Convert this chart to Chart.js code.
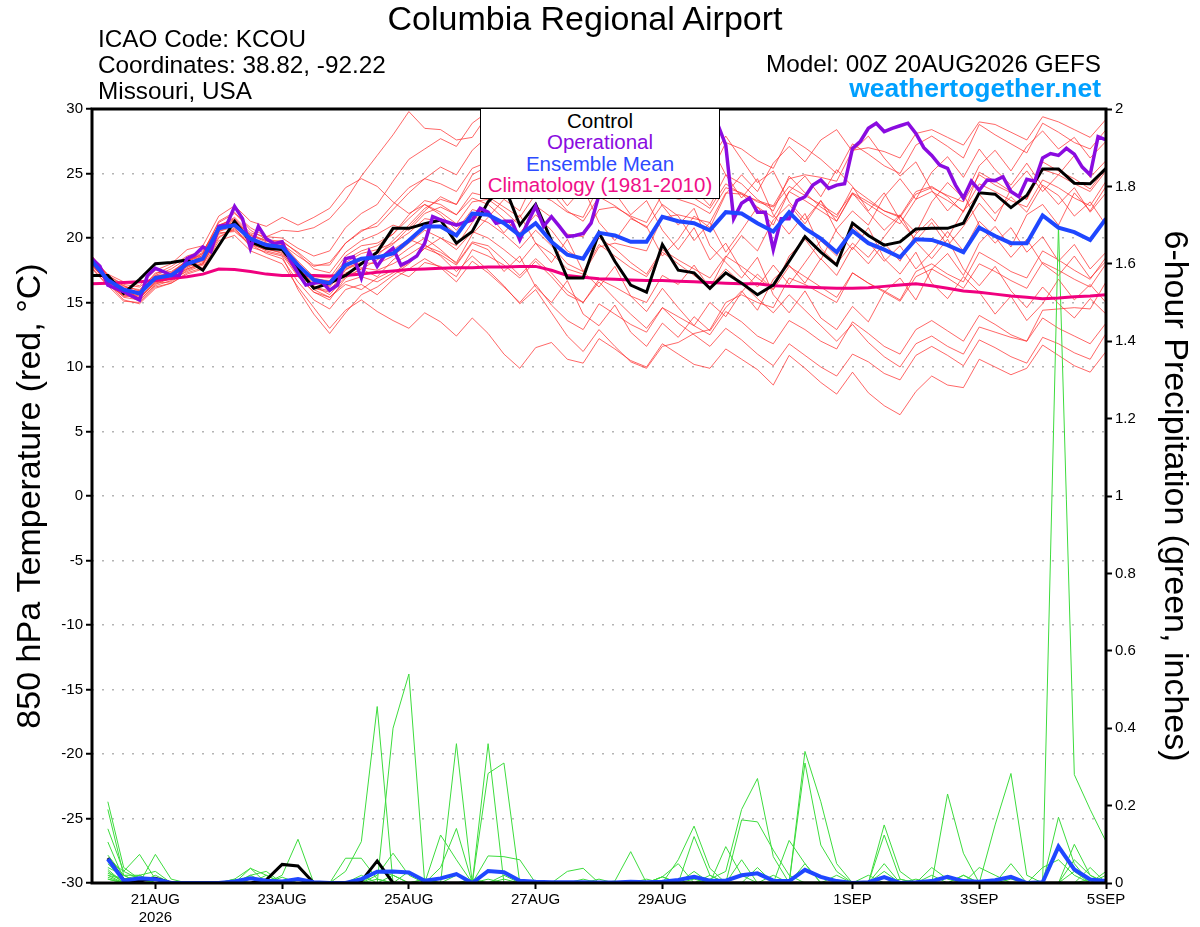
<!DOCTYPE html>
<html>
<head>
<meta charset="utf-8">
<title>Columbia Regional Airport - GEFS</title>
<script src="https://cdn.jsdelivr.net/npm/chart.js@4.4.1/dist/chart.umd.min.js"></script>
<style>
  body { margin: 0; background: #fff; }
  #wrap { position: relative; width: 1200px; height: 927px; font-family: "Liberation Sans", Arial, sans-serif; }
  #chart { position: absolute; left: 0; top: 0; }
  .hdr { position: absolute; white-space: nowrap; line-height: 1; color: #000; }
  #legendBox {
    position: absolute; left: 480px; top: 108px; width: 240px; height: 91px;
    box-sizing: border-box; border: 1.5px solid #000; background: #fff;
    text-align: center; font-size: 20.5px; line-height: 21.4px; padding-top: 1px;
  }
</style>
</head>
<body>
<div id="wrap">
  <canvas id="chart" width="1200" height="927"></canvas>
  <div class="hdr" style="left:0;width:1170px;text-align:center;top:1px;font-size:34px;">Columbia Regional Airport</div>
  <div class="hdr" style="left:98px;top:27px;font-size:24.3px;">ICAO Code: KCOU</div>
  <div class="hdr" style="left:98px;top:53px;font-size:24.3px;">Coordinates: 38.82, -92.22</div>
  <div class="hdr" style="left:98px;top:79px;font-size:24.3px;">Missouri, USA</div>
  <div class="hdr" style="right:99px;top:52px;font-size:24.3px;text-align:right;">Model: 00Z 20AUG2026 GEFS</div>
  <div class="hdr" style="right:99px;top:75px;font-size:26.5px;font-weight:bold;color:#00a0ff;text-align:right;">weathertogether.net</div>
  <div id="legendBox">
    <div style="color:#000;">Control</div>
    <div style="color:#8a0be0;">Operational</div>
    <div style="color:#2d4bff;">Ensemble Mean</div>
    <div style="color:#f00f88;">Climatology (1981-2010)</div>
  </div>
</div>
<script>
// x axis: forecast hour from 00Z 20AUG2026
const tickHours = [24, 72, 120, 168, 216, 288, 336, 384];
const tickLabels = [["21AUG", "2026"], "23AUG", "25AUG", "27AUG", "29AUG", "1SEP", "3SEP", "5SEP"];

// 850 hPa temperature, every 6 h from hour 0 (65 values)
const controlTemp = [
  17.1, 17.1, 15.7, 16.8, 18.0, 18.1, 18.3, 17.5, 19.4, 21.3, 19.7, 19.2, 19.1,
  17.6, 16.1, 16.5, 17.1, 18.0, 18.9, 20.75, 20.75, 21.1, 21.4, 19.6, 20.5,
  22.8, 24.1, 21.0, 22.6, 19.8, 16.9, 16.9, 20.4, 18.2, 16.35, 15.8, 19.5,
  17.5, 17.3, 16.1, 17.3, 16.5, 15.6, 16.35, 18.2, 20.1, 18.9, 17.9, 21.15,
  20.2, 19.45, 19.7, 20.7, 20.75, 20.75, 21.15, 23.5, 23.4, 22.35, 23.3, 25.35, 25.35, 24.25, 24.2, 25.4
];
const meanTemp = [
  18.2, 16.75, 16.0, 15.7, 16.9, 17.1, 18.0, 18.4, 20.75, 21.0, 19.95, 19.45, 19.3,
  17.9, 16.75, 16.5, 17.9, 18.4, 18.5, 18.8, 19.8, 20.9, 20.9, 20.2, 21.9,
  21.8, 21.15, 20.2, 21.15, 19.7, 18.7, 18.4, 20.4, 20.2, 19.7, 19.7, 21.65,
  21.3, 21.15, 20.6, 22.0, 21.9, 21.15, 20.5, 22.0, 20.75, 19.95, 18.9, 20.55,
  19.6, 19.1, 18.5, 19.9, 19.85, 19.45, 18.9, 20.8, 20.15, 19.6, 19.6, 21.75, 20.8, 20.45, 19.85, 21.5
];
const climoTemp = [
  16.45, 16.5, 16.55, 16.6, 16.7, 16.85, 17.0, 17.2, 17.6, 17.55, 17.4, 17.2, 17.1,
  17.1, 17.1, 17.05, 17.1, 17.2, 17.35, 17.45, 17.55, 17.6, 17.65, 17.7, 17.7,
  17.75, 17.75, 17.8, 17.8, 17.5, 17.1, 16.95, 16.85, 16.8, 16.75, 16.7, 16.7,
  16.65, 16.6, 16.55, 16.5, 16.45, 16.45, 16.3, 16.25, 16.2, 16.15, 16.1, 16.1,
  16.15, 16.25, 16.35, 16.45, 16.3, 16.1, 15.9, 15.8, 15.65, 15.5, 15.4, 15.3, 15.35, 15.45, 15.5, 15.6
];
// operational run, every 3 h from hour 0 (129 values)
const operTemp = [
  18.4, 17.8, 16.35, 16.1, 15.85, 15.5, 15.2, 17.1,
  17.65, 17.4, 17.1, 17.1, 18.4, 18.7, 19.3, 18.95,
  20.9, 21.0, 22.45, 21.5, 19.2, 20.9, 19.95, 19.55,
  19.7, 18.3, 17.3, 16.35, 16.5, 16.6, 15.95, 16.35,
  18.4, 18.55, 16.9, 18.95, 17.8, 18.7, 19.2, 17.9,
  18.2, 18.6, 19.6, 21.65, 21.4, 21.2, 21.0, 21.2,
  21.4, 22.3, 22.0, 21.15, 21.3, 21.3, 19.85, 21.2,
  22.45, 20.9, 21.65, 20.9, 20.1, 20.2, 20.35, 21.15,
  23.35, 24.5, 25.8, 26.4, 27.0, 27.8, 28.2, 27.9,
  28.5, 29.0, 28.6, 29.2, 29.6, 29.4, 29.3, 28.8,
  27.2, 21.5, 22.7, 23.1, 22.0, 22.0, 19.1, 21.5,
  21.5, 22.9, 23.2, 24.1, 24.5, 23.85, 24.1, 24.2,
  26.95, 27.5, 28.5, 28.9, 28.25, 28.5, 28.7, 28.9,
  28.1, 27.0, 26.4, 25.65, 25.4, 24.1, 23.1, 24.4,
  23.7, 24.5, 24.45, 24.75, 23.6, 23.2, 24.55, 24.4,
  26.2, 26.55, 26.4, 26.95, 26.5, 25.5, 24.9, 27.85,
  27.6
];
// ensemble members, every 6 h from hour 0
const memberTemps = [
  [18.0, 16.9, 16.2, 16.0, 17.2, 17.8, 18.6, 19.0, 20.9, 21.6, 20.4, 20.1, 20.6,
   20.5, 20.8, 21.5, 22.9, 24.8, 26.4, 28.0, 29.8, 28.5, 28.4, 27.6, 27.8,
   29.6, 28.7, 27.5, 25.8, 26.9, 25.1, 24.0, 26.2, 25.4, 24.6, 23.3, 25.0,
   24.1, 23.8, 22.5, 24.9, 24.2, 23.0, 22.1, 24.8, 23.5, 22.4, 21.6, 23.9,
   23.0, 22.1, 21.7, 23.6, 24.0, 23.2, 22.0, 25.1, 24.4, 23.6, 23.0, 25.9, 25.2, 24.6, 23.8, 25.4],
  [18.4, 16.5, 15.2, 14.9, 16.1, 16.5, 17.2, 17.6, 19.8, 20.2, 19.0, 18.5, 18.0,
   16.2, 14.6, 13.0, 14.4, 15.2, 14.3, 13.6, 13.0, 14.2, 13.5, 12.4, 13.8,
   12.6, 11.0, 9.9, 11.5, 11.9, 10.6, 10.3, 12.2, 11.4, 10.5, 10.0, 11.8,
   11.0, 10.2, 9.9, 11.4, 10.6, 9.8, 8.6, 10.9, 9.9, 8.8, 7.9, 9.6,
   8.0, 7.0, 6.3, 8.1, 9.3, 8.6, 8.4, 10.6, 10.0, 9.4, 9.9, 11.7, 10.9, 10.1, 9.6, 11.2],
  [17.6, 16.3, 15.6, 15.4, 16.5, 16.9, 17.9, 18.7, 20.8, 21.2, 20.3, 19.8, 19.5,
   18.6, 17.8, 18.1, 19.6, 20.5, 21.2, 22.6, 23.9, 24.6, 25.5, 24.9, 26.8,
   27.9, 27.1, 26.0, 27.4, 26.3, 24.9, 24.2, 26.6, 25.9, 25.2, 24.5, 26.9,
   26.1, 25.5, 24.8, 27.4, 26.9, 26.0, 25.4, 27.8, 27.0, 26.1, 25.0, 27.3,
   26.5, 25.6, 25.0, 27.2, 27.9, 27.1, 26.2, 28.8, 28.0, 27.3, 26.6, 28.9, 28.2, 27.4, 26.9, 28.4],
  [18.6, 17.0, 16.1, 15.3, 16.6, 16.8, 17.4, 17.9, 20.3, 20.6, 19.5, 18.8, 18.4,
   16.6, 15.2, 14.5, 16.0, 16.4, 15.6, 16.8, 17.6, 18.4, 17.7, 16.6, 18.2,
   17.3, 16.2, 15.0, 16.4, 14.8, 13.6, 12.9, 14.9, 14.1, 13.3, 12.7, 14.6,
   13.9, 13.2, 12.5, 14.3, 13.5, 12.4, 11.8, 13.6, 12.9, 12.0, 11.4, 13.5,
   12.6, 11.6, 11.0, 12.9, 13.6, 12.8, 12.0, 14.0, 13.3, 12.5, 12.0, 13.8, 13.0, 12.4, 11.8, 13.4],
  [17.9, 16.6, 15.9, 15.9, 17.3, 17.4, 18.2, 18.9, 21.2, 21.9, 20.8, 20.1, 20.0,
   19.2, 18.6, 19.0, 20.8, 21.9, 22.6, 24.4, 26.1, 26.9, 27.7, 27.1, 28.9,
   29.8, 28.6, 26.2, 27.0, 24.1, 22.5, 23.9, 21.2, 19.8, 21.5, 20.9, 18.6,
   19.9, 21.7, 20.8, 23.4, 24.9, 23.6, 25.8, 27.1, 25.9, 27.6, 28.4, 26.7,
   27.9, 26.2, 24.8, 25.9, 23.7, 22.1, 23.4, 21.0, 19.6, 20.8, 18.9, 20.1, 18.2, 19.5, 17.6, 18.9],
  [18.1, 16.8, 15.8, 15.5, 16.8, 17.0, 17.8, 18.2, 20.5, 21.1, 19.8, 19.6, 19.1,
   17.5, 16.1, 15.8, 17.3, 17.7, 17.5, 18.0, 18.7, 19.5, 18.6, 17.4, 18.6,
   17.5, 16.3, 14.9, 16.0, 14.2, 12.4, 11.2, 12.9, 11.6, 10.4, 9.9, 11.6,
   11.9, 12.6, 12.9, 15.0, 15.6, 15.0, 14.6, 16.9, 16.4, 15.7, 15.0, 17.3,
   16.5, 15.9, 15.2, 17.4, 18.0, 17.2, 16.6, 18.9, 18.2, 17.4, 16.9, 19.0, 18.3, 17.5, 16.8, 18.5],
  [18.3, 16.9, 16.3, 15.9, 17.0, 17.3, 18.3, 18.5, 20.6, 21.4, 20.0, 19.3, 19.6,
   18.2, 17.0, 16.9, 18.6, 19.4, 19.6, 20.3, 21.5, 22.6, 22.0, 21.1, 22.8,
   23.0, 22.1, 21.0, 22.5, 21.6, 20.3, 20.1, 22.2, 22.4, 21.7, 21.2, 23.4,
   23.0, 22.6, 21.9, 23.9, 23.5, 22.8, 22.4, 24.0, 23.3, 22.6, 21.8, 23.5,
   22.8, 22.1, 21.6, 23.4, 23.9, 23.3, 22.8, 24.9, 24.1, 23.5, 23.0, 25.3, 24.9, 24.2, 23.6, 25.2],
  [18.0, 16.4, 15.7, 15.1, 16.4, 16.9, 17.6, 18.0, 20.4, 20.5, 19.5, 19.1, 18.9,
   17.1, 15.8, 15.4, 16.4, 16.0, 16.9, 17.5, 17.0, 18.1, 17.8, 17.0, 19.1,
   18.6, 17.9, 16.9, 18.2, 17.0, 15.6, 15.0, 16.8, 16.2, 15.5, 15.0, 17.1,
   16.4, 17.9, 16.1, 18.5, 20.2, 19.0, 21.4, 22.6, 21.1, 22.9, 21.3, 23.5,
   22.0, 20.6, 21.8, 19.7, 18.4, 19.9, 17.6, 16.3, 17.8, 15.9, 14.6, 16.2, 14.9, 13.8, 15.3, 14.1],
  [18.5, 17.1, 16.4, 16.2, 17.1, 17.6, 18.4, 18.6, 21.0, 21.4, 20.2, 19.7, 19.8,
   18.8, 17.6, 17.3, 18.9, 19.8, 20.3, 21.0, 20.6, 21.9, 22.4, 21.8, 23.5,
   23.2, 22.4, 21.6, 23.4, 22.9, 22.0, 21.6, 24.0, 24.6, 24.0, 23.6, 26.0,
   25.8, 27.2, 26.0, 27.9, 26.1, 24.3, 25.2, 22.8, 21.4, 22.9, 20.5, 19.1,
   20.8, 18.4, 17.2, 18.9, 16.5, 15.3, 17.0, 15.8, 14.1, 15.5, 13.6, 14.9, 16.8, 15.2, 16.4, 15.0],
  [17.8, 16.6, 15.5, 15.6, 16.7, 16.8, 17.7, 18.3, 20.9, 21.0, 20.1, 19.4, 19.2,
   17.8, 16.3, 15.6, 17.0, 17.6, 18.3, 19.1, 19.9, 19.4, 18.9, 18.1, 20.3,
   21.6, 23.0, 22.1, 24.7, 25.5, 24.0, 26.3, 27.2, 25.6, 23.9, 24.8, 22.5,
   21.0, 22.3, 19.4, 18.1, 16.9, 18.5, 15.6, 14.2, 15.9, 13.8, 12.9, 14.7,
   13.5, 15.8, 16.9, 15.2, 17.6, 18.8, 17.1, 19.6, 20.9, 19.3, 21.8, 22.6, 21.0, 23.5, 22.1, 24.0],
  [18.2, 16.7, 16.0, 15.8, 17.1, 17.2, 18.1, 18.8, 21.3, 22.0, 20.6, 19.9, 19.7,
   18.9, 17.9, 17.9, 19.6, 20.6, 20.9, 22.2, 23.5, 24.6, 24.2, 23.6, 25.4,
   25.9, 25.6, 24.9, 26.8, 27.3, 26.6, 26.0, 28.1, 28.6, 28.0, 27.4, 29.3,
   28.6, 26.4, 27.3, 24.9, 23.1, 24.6, 21.8, 20.3, 21.9, 19.2, 18.0, 19.6,
   18.5, 20.1, 21.7, 20.4, 22.8, 24.3, 23.1, 25.6, 26.8, 25.2, 27.1, 28.3, 26.9, 27.8, 26.2, 27.5],
  [18.5, 16.9, 16.0, 15.3, 16.5, 16.6, 17.5, 18.0, 20.1, 20.7, 19.6, 19.0, 18.7,
   17.0, 15.8, 15.2, 16.9, 17.6, 17.0, 18.3, 19.2, 20.0, 19.1, 18.0, 19.7,
   19.4, 18.3, 17.1, 18.4, 17.3, 15.9, 15.0, 16.6, 15.3, 14.1, 13.0, 14.6,
   13.4, 12.5, 11.6, 13.0, 12.1, 11.0, 10.1, 11.8, 10.9, 10.0, 9.3, 11.0,
   10.4, 9.5, 9.0, 10.9, 11.6, 10.9, 10.1, 12.1, 11.5, 10.8, 10.3, 12.3, 11.8, 11.1, 10.6, 12.6],
  [17.7, 16.3, 15.1, 15.0, 16.2, 16.5, 17.3, 17.7, 20.0, 20.8, 19.3, 18.9, 18.6,
   16.0, 14.1, 12.6, 14.2, 15.6, 16.2, 17.1, 18.0, 19.2, 20.0, 19.4, 21.2,
   22.8, 24.6, 23.1, 25.9, 27.4, 26.0, 24.2, 25.7, 23.5, 21.8, 22.9, 20.6,
   19.1, 20.8, 18.3, 19.6, 17.5, 16.2, 17.9, 16.4, 18.1, 19.8, 18.6, 20.9,
   19.7, 18.2, 19.4, 17.6, 18.9, 20.5, 19.0, 21.3, 20.1, 18.5, 19.9, 18.0, 17.1, 18.6, 16.9, 18.2],
  [18.4, 17.2, 16.6, 16.3, 17.5, 18.0, 19.1, 19.4, 21.7, 22.5, 21.3, 20.9, 21.6,
   21.0, 21.6, 22.3, 23.9, 24.6, 24.0, 22.8, 21.9, 22.6, 21.8, 20.6, 22.2,
   21.9, 20.4, 21.8, 19.6, 18.1, 19.9, 17.4, 16.2, 17.8, 15.5, 14.3, 16.1,
   14.6, 13.2, 15.0, 13.9, 15.8, 17.2, 16.0, 18.6, 19.9, 18.3, 20.7, 22.1,
   21.0, 23.2, 24.6, 23.0, 25.1, 26.3, 24.7, 26.9, 25.3, 24.1, 25.8, 24.0, 22.6, 23.9, 22.0, 23.5],
  [18.0, 16.6, 15.9, 15.6, 17.0, 17.2, 17.9, 18.3, 20.6, 21.1, 19.9, 19.5, 19.0,
   17.6, 16.5, 16.3, 17.7, 18.1, 18.0, 18.6, 19.6, 20.6, 20.0, 19.1, 20.5,
   20.0, 19.1, 18.1, 19.6, 18.8, 17.6, 17.2, 19.3, 19.6, 19.3, 19.0, 21.6,
   21.8, 21.5, 21.2, 23.5, 23.4, 22.9, 22.5, 24.6, 24.9, 24.7, 24.4, 26.8,
   27.0, 26.7, 26.2, 28.1, 28.4, 27.8, 27.2, 29.0, 28.8, 28.2, 27.6, 29.4, 29.0, 28.4, 27.8, 29.2],
  [18.3, 16.8, 16.1, 15.6, 16.8, 17.1, 18.0, 18.5, 20.7, 21.0, 20.0, 19.4, 19.4,
   18.0, 16.9, 16.6, 18.1, 18.8, 19.1, 19.6, 20.4, 21.5, 21.3, 20.3, 21.7,
   21.2, 20.3, 19.2, 20.6, 19.4, 18.0, 17.4, 19.5, 18.6, 17.7, 17.0, 18.9,
   18.0, 17.1, 16.2, 17.6, 16.5, 15.3, 14.2, 15.6, 14.4, 13.2, 12.0, 13.3,
   11.9, 10.8, 10.0, 11.8, 12.4, 11.6, 11.0, 13.1, 12.7, 12.3, 12.0, 14.4, 14.5, 14.6, 14.5, 16.6],
  [17.9, 16.5, 15.4, 15.2, 16.3, 16.7, 17.6, 18.1, 20.5, 20.9, 19.8, 19.2, 18.8,
   17.3, 16.2, 15.9, 17.5, 18.3, 18.8, 19.5, 20.8, 22.1, 23.2, 22.6, 24.4,
   24.9, 24.2, 23.1, 24.5, 23.5, 22.1, 21.3, 23.2, 22.5, 21.6, 20.8, 22.6,
   21.7, 19.8, 21.2, 18.9, 20.6, 22.4, 21.0, 23.6, 24.8, 23.2, 25.3, 24.0,
   22.1, 23.5, 21.4, 19.8, 21.2, 19.4, 20.9, 22.7, 21.3, 23.8, 25.2, 23.6, 24.9, 26.4, 24.7, 26.0],
  [18.6, 17.1, 16.3, 15.7, 16.9, 17.3, 18.2, 18.8, 21.0, 21.5, 20.2, 19.8, 19.5,
   18.1, 16.8, 16.7, 18.3, 19.0, 19.4, 20.3, 21.8, 22.9, 22.6, 21.8, 23.1,
   22.6, 21.5, 20.4, 21.8, 20.6, 19.0, 18.3, 20.0, 19.2, 18.1, 17.2, 19.1,
   18.3, 17.6, 16.9, 18.6, 17.8, 16.9, 16.0, 17.8, 17.0, 16.2, 15.4, 17.3,
   16.5, 15.8, 15.1, 17.0, 17.6, 16.9, 16.1, 18.0, 17.4, 16.7, 16.1, 18.1, 17.5, 16.8, 16.2, 18.0],
  [18.1, 16.4, 15.5, 15.4, 16.6, 17.0, 17.8, 18.5, 20.7, 21.2, 19.9, 19.6, 19.3,
   17.8, 16.6, 16.2, 17.6, 18.0, 18.6, 19.8, 21.0, 22.3, 23.0, 22.6, 24.9,
   25.6, 25.0, 24.3, 26.0, 25.2, 24.0, 23.6, 25.8, 25.0, 24.0, 23.1, 25.0,
   24.0, 23.1, 22.3, 24.2, 23.4, 22.4, 21.6, 23.6, 22.9, 22.1, 21.3, 23.4,
   22.6, 21.8, 21.1, 23.0, 23.6, 22.9, 22.1, 24.2, 23.6, 22.9, 22.4, 24.5, 23.9, 23.1, 22.5, 24.4],
  [18.0, 16.7, 15.9, 15.7, 16.9, 17.1, 17.9, 18.4, 20.8, 21.2, 20.0, 19.3, 19.1,
   17.4, 16.0, 15.4, 16.6, 17.0, 16.6, 17.3, 18.1, 19.2, 18.7, 17.9, 19.6,
   19.1, 17.4, 18.6, 16.2, 15.0, 16.7, 14.1, 13.2, 14.8, 12.7, 11.6, 13.4,
   12.3, 13.9, 12.8, 14.6, 15.9, 14.4, 16.8, 17.9, 16.5, 18.4, 17.1, 19.3,
   18.0, 19.6, 18.2, 20.3, 21.5, 20.0, 22.1, 23.4, 21.9, 23.2, 22.0, 24.1, 23.3, 21.7, 22.8, 21.0]
];

// 6-hour precipitation (inches), every 6 h from hour 6 (64 values)
const controlPrecip = [
  0.064, 0.008, 0.005, 0.012, 0, 0, 0, 0,
  0, 0, 0.008, 0.048, 0.044, 0, 0, 0,
  0.005, 0.057, 0, 0, 0, 0, 0, 0,
  0, 0, 0, 0.003, 0, 0, 0, 0,
  0, 0, 0, 0, 0, 0, 0, 0,
  0, 0, 0, 0, 0, 0, 0, 0,
  0, 0, 0, 0, 0, 0, 0, 0,
  0, 0, 0, 0, 0, 0, 0, 0
];
const meanPrecip = [
  0.062, 0.006, 0.012, 0.01, 0, 0, 0, 0,
  0.004, 0.012, 0.006, 0.004, 0.01, 0.002, 0, 0,
  0.01, 0.029, 0.03, 0.027, 0.006, 0.012, 0.023, 0,
  0.031, 0.028, 0.006, 0.003, 0.002, 0.002, 0.002, 0.001,
  0.001, 0.003, 0.002, 0.003, 0.008, 0.016, 0.006, 0.006,
  0.02, 0.025, 0.006, 0.005, 0.034, 0.016, 0.005, 0,
  0.002, 0.015, 0, 0.002, 0.005, 0.016, 0.005, 0.003,
  0.007, 0.016, 0, 0.002, 0.094, 0.035, 0.009, 0.005
];
const memberPrecips = [
  [0.21, 0.04, 0.01, 0, 0, 0, 0, 0,  0, 0, 0, 0, 0, 0, 0, 0.03,
   0.107, 0.456, 0, 0, 0.01, 0, 0, 0,  0, 0, 0, 0, 0, 0, 0, 0,
   0, 0, 0, 0, 0, 0, 0.01, 0.03,  0.19, 0.27, 0.068, 0, 0, 0, 0, 0,
   0, 0, 0, 0, 0, 0, 0, 0,  0.15, 0.283, 0.02, 0, 0, 0, 0, 0],
  [0.19, 0.02, 0, 0, 0, 0, 0, 0,  0, 0, 0, 0, 0, 0, 0, 0,
   0, 0, 0.40, 0.54, 0, 0, 0, 0,  0, 0, 0, 0, 0, 0, 0, 0,
   0, 0, 0, 0, 0.06, 0.147, 0.038, 0,  0, 0, 0, 0, 0, 0, 0, 0,
   0, 0.15, 0.03, 0, 0, 0, 0, 0,  0, 0, 0, 0, 1.70, 0.28, 0.19, 0.107],
  [0.14, 0.03, 0.074, 0.01, 0, 0, 0, 0,  0, 0, 0, 0, 0, 0, 0, 0,
   0, 0, 0, 0, 0, 0, 0.36, 0,  0, 0, 0, 0, 0, 0, 0, 0,
   0, 0, 0, 0, 0, 0, 0, 0,  0, 0, 0, 0, 0.34, 0.21, 0.05, 0,
   0, 0, 0, 0, 0, 0.23, 0.077, 0,  0, 0, 0, 0, 0, 0, 0, 0],
  [0.106, 0.01, 0, 0.074, 0.01, 0, 0, 0,  0, 0, 0, 0.02, 0.113, 0, 0, 0,
   0, 0, 0, 0, 0, 0, 0, 0,  0.36, 0, 0, 0, 0, 0, 0, 0,
   0, 0, 0, 0, 0, 0.12, 0.02, 0,  0, 0, 0, 0, 0.31, 0.098, 0.03, 0,
   0, 0, 0, 0, 0, 0, 0, 0,  0, 0.05, 0, 0, 0.17, 0.05, 0, 0],
  [0.072, 0.02, 0.02, 0, 0, 0, 0, 0,  0, 0, 0, 0, 0, 0, 0, 0.064,
   0.064, 0.01, 0, 0, 0, 0, 0, 0,  0.283, 0.31, 0, 0, 0, 0, 0, 0,
   0, 0, 0, 0, 0, 0, 0, 0,  0.163, 0.158, 0.085, 0.02, 0, 0, 0, 0,
   0, 0.124, 0.01, 0, 0, 0, 0, 0,  0, 0, 0, 0, 0, 0.10, 0.02, 0],
  [0.06, 0.03, 0.01, 0, 0, 0, 0, 0,  0, 0.02, 0, 0, 0, 0, 0, 0,
   0, 0, 0, 0, 0, 0.124, 0.06, 0,  0, 0, 0, 0, 0, 0, 0, 0,
   0.005, 0.081, 0, 0, 0, 0, 0, 0.094,  0.02, 0, 0, 0.11, 0.05, 0, 0, 0,
   0, 0, 0, 0, 0, 0, 0, 0,  0, 0, 0, 0, 0, 0, 0.04, 0],
  [0.05, 0.01, 0.02, 0.03, 0, 0, 0, 0,  0, 0.038, 0, 0, 0, 0, 0, 0,
   0, 0, 0.02, 0, 0, 0.04, 0.141, 0,  0.07, 0.068, 0.06, 0, 0, 0, 0, 0,
   0, 0, 0, 0.016, 0, 0, 0, 0,  0, 0, 0, 0, 0, 0, 0, 0,
   0, 0, 0, 0, 0, 0, 0.02, 0,  0, 0, 0, 0, 0, 0, 0, 0],
  [0.04, 0.02, 0, 0, 0, 0, 0, 0,  0, 0, 0.02, 0, 0, 0, 0, 0,
   0, 0.02, 0.077, 0.02, 0, 0, 0, 0,  0, 0, 0, 0, 0, 0.03, 0.038, 0,
   0, 0, 0, 0, 0, 0, 0, 0,  0, 0, 0, 0, 0, 0, 0, 0,
   0.02, 0, 0, 0.01, 0, 0, 0, 0,  0, 0, 0, 0, 0, 0, 0, 0.02],
  [0.035, 0, 0, 0, 0, 0, 0, 0,  0.01, 0.038, 0.02, 0, 0, 0, 0, 0,
   0, 0, 0, 0, 0, 0, 0, 0,  0, 0.01, 0, 0, 0, 0, 0, 0,
   0, 0, 0, 0.016, 0.05, 0, 0, 0,  0.06, 0, 0, 0, 0, 0, 0, 0,
   0, 0, 0, 0, 0.04, 0.01, 0, 0,  0, 0, 0, 0.04, 0.06, 0.02, 0, 0],
  [0.03, 0, 0.02, 0, 0, 0, 0, 0,  0, 0, 0, 0.015, 0, 0, 0, 0,
   0, 0, 0, 0.03, 0, 0, 0, 0,  0, 0, 0, 0, 0, 0, 0, 0.01,
   0, 0, 0, 0, 0, 0.03, 0, 0,  0, 0, 0, 0, 0, 0, 0, 0,
   0, 0.05, 0, 0, 0, 0, 0, 0.04,  0.02, 0, 0, 0, 0, 0, 0, 0],
  [0.025, 0.01, 0, 0, 0, 0, 0, 0,  0, 0.02, 0.03, 0, 0, 0, 0, 0,
   0, 0, 0, 0, 0, 0, 0, 0.01,  0, 0, 0, 0, 0, 0, 0, 0,
   0, 0, 0, 0.016, 0, 0, 0, 0,  0, 0.04, 0, 0, 0, 0, 0, 0,
   0, 0.03, 0, 0, 0, 0, 0, 0,  0, 0, 0, 0, 0, 0.06, 0.02, 0],
  [0.02, 0, 0, 0, 0, 0, 0, 0,  0, 0, 0, 0, 0, 0, 0, 0,
   0, 0.03, 0.02, 0, 0, 0, 0, 0,  0, 0.02, 0, 0, 0, 0, 0, 0,
   0, 0, 0, 0, 0, 0, 0.02, 0,  0, 0, 0, 0, 0.05, 0, 0, 0,
   0, 0, 0, 0, 0, 0, 0.02, 0,  0, 0, 0, 0, 0, 0, 0, 0.03],
  [0.02, 0.01, 0, 0, 0, 0, 0, 0,  0, 0, 0, 0, 0, 0, 0, 0,
   0.02, 0, 0, 0, 0, 0, 0.02, 0,  0, 0, 0, 0, 0, 0, 0, 0,
   0, 0, 0.01, 0, 0, 0, 0, 0,  0, 0, 0, 0, 0, 0, 0.02, 0,
   0, 0, 0, 0, 0.02, 0, 0, 0,  0, 0, 0, 0, 0, 0, 0, 0],
  [0.015, 0, 0, 0, 0, 0, 0, 0,  0.01, 0, 0, 0, 0, 0, 0, 0,
   0, 0, 0, 0, 0.01, 0, 0, 0,  0.01, 0, 0, 0, 0, 0, 0, 0,
   0, 0, 0, 0, 0, 0, 0, 0,  0, 0, 0.02, 0, 0, 0, 0, 0,
   0, 0, 0, 0, 0, 0, 0, 0,  0, 0, 0, 0, 0, 0.03, 0, 0],
  [0.01, 0, 0, 0.02, 0, 0, 0, 0,  0, 0, 0, 0, 0, 0, 0, 0,
   0, 0.01, 0, 0, 0, 0, 0, 0,  0, 0, 0, 0, 0, 0, 0.01, 0,
   0, 0, 0, 0, 0, 0.01, 0, 0,  0, 0, 0, 0, 0, 0, 0, 0,
   0, 0, 0.01, 0, 0, 0, 0, 0,  0, 0, 0, 0, 0, 0, 0.01, 0],
  [0.01, 0, 0, 0, 0, 0, 0, 0,  0, 0, 0, 0, 0, 0, 0, 0,
   0, 0, 0, 0, 0, 0, 0, 0,  0, 0, 0, 0, 0, 0, 0, 0,
   0, 0, 0, 0, 0, 0, 0, 0,  0, 0, 0, 0, 0, 0, 0, 0,
   0, 0, 0, 0, 0, 0, 0, 0,  0, 0.01, 0, 0, 0, 0, 0, 0]
];

const FONT = "'Liberation Sans', Arial, sans-serif";

// turn a value list into {x: hour, y} points
function toPoints(values, step, start) {
  return values.map((v, i) => ({ x: start + i * step, y: v }));
}

// thick frame round the plot area, drawn over the lines
const framePlugin = {
  id: "frame",
  afterDatasetsDraw(chart) {
    const { ctx, chartArea } = chart;
    ctx.save();
    ctx.strokeStyle = "#000";
    ctx.lineWidth = 3;
    ctx.strokeRect(chartArea.left, chartArea.top, chartArea.right - chartArea.left, chartArea.bottom - chartArea.top);
    ctx.restore();
  },
};

document.addEventListener("DOMContentLoaded", function () {
  const datasets = [];

  memberTemps.forEach((vals) => {
    datasets.push({
      data: toPoints(vals, 6, 0),
      yAxisID: "y",
      borderColor: "rgba(255, 45, 45, 0.72)",
      borderWidth: 1,
      order: 30,
    });
  });

  memberPrecips.forEach((vals) => {
    datasets.push({
      data: toPoints(vals, 6, 6),
      yAxisID: "yP",
      borderColor: "#3ddc3d",
      borderWidth: 1,
      order: 20,
    });
  });

  datasets.push(
    { data: toPoints(climoTemp, 6, 0), yAxisID: "y", borderColor: "#f0007f", borderWidth: 3, order: 5 },
    { data: toPoints(controlTemp, 6, 0), yAxisID: "y", borderColor: "#000000", borderWidth: 3, order: 4 },
    { data: toPoints(operTemp, 3, 0), yAxisID: "y", borderColor: "#8a0be0", borderWidth: 3.5, order: 3 },
    { data: toPoints(meanTemp, 6, 0), yAxisID: "y", borderColor: "#1f47ff", borderWidth: 4, order: 2 },
    { data: toPoints(controlPrecip, 6, 6), yAxisID: "yP", borderColor: "#000000", borderWidth: 3, order: 4 },
    { data: toPoints(meanPrecip, 6, 6), yAxisID: "yP", borderColor: "#1f47ff", borderWidth: 4, order: 2 }
  );

  const ctx = document.getElementById("chart").getContext("2d");
  new Chart(ctx, {
    type: "line",
    data: { datasets: datasets },
    plugins: [framePlugin],
    options: {
      responsive: false,
      animation: false,
      layout: { padding: { top: 109, left: 0, right: 0, bottom: 0 } },
      elements: {
        point: { radius: 0, hoverRadius: 0 },
        line: { tension: 0, fill: false },
      },
      plugins: {
        legend: { display: false },
        tooltip: { enabled: false },
      },
      scales: {
        x: {
          type: "linear",
          min: 0,
          max: 384,
          afterBuildTicks: (scale) => {
            scale.ticks = tickHours.map((h) => ({ value: h }));
          },
          afterFit: (scale) => {
            scale.height = 44;
          },
          ticks: {
            autoSkip: false,
            maxRotation: 0,
            padding: 2,
            color: "#000",
            font: { family: FONT, size: 15 },
            callback: (value) => tickLabels[tickHours.indexOf(value)],
          },
          grid: { drawOnChartArea: false, drawTicks: true, tickLength: 6, tickColor: "#000", tickWidth: 2 },
          border: { display: false },
        },
        y: {
          position: "left",
          min: -30,
          max: 30,
          afterFit: (scale) => {
            scale.width = 92;
          },
          ticks: {
            stepSize: 5,
            padding: 3,
            color: "#000",
            font: { family: FONT, size: 15 },
          },
          grid: {
            color: (c) => (Math.abs(c.tick.value) === 30 ? "rgba(0,0,0,0)" : "#b4b4b4"),
            lineWidth: 1.5,
            tickLength: 6,
            tickColor: "#000",
            tickWidth: 2,
            tickBorderDash: [],
          },
          border: { display: false, dash: [2, 8] },
          title: {
            display: true,
            text: "850 hPa Temperature (red, °C)",
            color: "#000",
            font: { family: FONT, size: 34 },
            padding: { top: 10, bottom: 0 },
          },
        },
        yP: {
          position: "right",
          min: 0,
          max: 2,
          afterFit: (scale) => {
            scale.width = 94;
          },
          ticks: {
            stepSize: 0.2,
            padding: 3,
            color: "#000",
            font: { family: FONT, size: 15 },
            callback: (v) => String(+v.toFixed(1)),
          },
          grid: { drawOnChartArea: false, tickLength: 6, tickColor: "#000", tickWidth: 2 },
          border: { display: false },
          title: {
            display: true,
            text: "6-hour Precipitation (green, inches)",
            color: "#000",
            font: { family: FONT, size: 34 },
            padding: { top: 5, bottom: 0 },
          },
        },
      },
    },
  });
});
</script>
</body>
</html>
